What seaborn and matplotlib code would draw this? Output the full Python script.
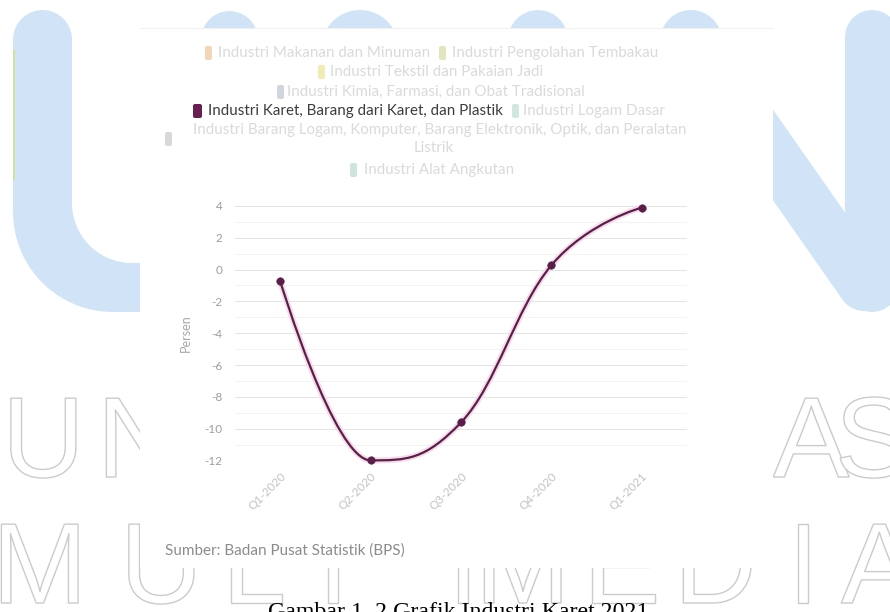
import numpy as np
import pandas as pd
import matplotlib
matplotlib.use("Agg")
import matplotlib.pyplot as plt
import seaborn as sns
from matplotlib.path import Path
from matplotlib.patches import PathPatch, Rectangle, FancyBboxPatch, Polygon
from matplotlib.textpath import TextPath
from matplotlib.font_manager import FontProperties
import matplotlib.patheffects as pe

# ---------------- data ----------------
quarters = ["Q1-2020", "Q2-2020", "Q3-2020", "Q4-2020", "Q1-2021"]
growth = [-0.73, -11.98, -9.60, 0.27, 3.89]
y_ticks = [4, 2, 0, -2, -4, -6, -8, -10, -12]
y_label = "Persen"
legend_names = [
    "Industri Makanan dan Minuman",
    "Industri Pengolahan Tembakau",
    "Industri Tekstil dan Pakaian Jadi",
    "Industri Kimia, Farmasi, dan Obat Tradisional",
    "Industri Karet, Barang dari Karet, dan Plastik",
    "Industri Logam Dasar",
    "Industri Barang Logam, Komputer, Barang Elektronik, Optik, dan Peralatan Listrik",
    "Industri Alat Angkutan",
]
legend_colors = ["#f3d6b8", "#e2e6bf", "#f1ebb6", "#cfd6dd", "#6a1f51", "#cfe7df", "#d8d8d8", "#cde5dc"]
active_series = "Industri Karet, Barang dari Karet, dan Plastik"
source_text = "Sumber: Badan Pusat Statistik (BPS)"
caption_text = "Gambar 1. 2 Grafik Industri Karet 2021"
wm_row1 = ["U", "N", "A", "S"]
wm_row2 = ["M", "U", "L", "T", "I", "M", "E", "D", "I", "A"]

# ---------------- style ----------------
sns.set_theme(style="white")
plt.rcParams["font.family"] = ["Lato", "DejaVu Sans"]
plt.rcParams["axes.unicode_minus"] = False

DPI = 100
W, H = 890, 612
fig = plt.figure(figsize=(W / DPI, H / DPI), dpi=DPI)
fig.patch.set_facecolor("white")

PX = 72.0 / DPI  # points per pixel


def width_px(s, family, size_pt):
    tp = TextPath((0, 0), s, size=size_pt, prop=FontProperties(family=family))
    return tp.get_extents().width / PX


def fit_size(s, family, target_px):
    return 10.0 * target_px / width_px(s, family, 10.0)


# background axis in pixel coordinates (y downwards)
bg = fig.add_axes([0, 0, 1, 1])
bg.set_xlim(0, W)
bg.set_ylim(H, 0)
bg.axis("off")
bg.set_zorder(0)

BLUE = "#d1e4f7"

# --- watermark: "U" shape (left)
top = [(42.5 + 29.5 * np.cos(t), 39.5 - 29.5 * np.sin(t)) for t in np.linspace(np.pi, 0, 30)]
inner = [(132 - 60 * np.cos(p), 203 + 60 * np.sin(p)) for p in np.linspace(0, np.pi / 2, 30)]
outer = [(113 - 100 * np.sin(p), 212 + 100 * np.cos(p)) for p in np.linspace(0, np.pi / 2, 40)]
u_pts = top + [(72, 39.5)] + inner + [(300, 263), (300, 312)] + outer + [(13, 39.5)]
bg.add_patch(Polygon(u_pts, closed=True, facecolor=BLUE, edgecolor="none", zorder=1))
bg.plot([14, 14], [50, 180], color="#cfe39a", lw=2 * PX, zorder=1.5, solid_capstyle="butt")

# --- watermark: rounded bumps peeking above the chart box
for cx, wpx in [(228.5, 57), (360, 78), (538, 60), (691, 62)]:
    bg.plot([cx, cx], [10 + wpx / 2, 150], color=BLUE, lw=wpx * PX,
            solid_capstyle="round", zorder=1)

# --- watermark: "N" (right)
bg.plot([872, 872], [37, 285], color=BLUE, lw=54 * PX, solid_capstyle="round", zorder=1)
bg.plot([690, 864], [155 + 1.43 * (690 - 773), 285], color=BLUE, lw=52 * PX,
        solid_capstyle="round", zorder=1)

# --- watermark: outlined letters
wm_size = 82.5
stroke = [pe.Stroke(linewidth=1.0, foreground="#cbcbcb")]
for ch, x in zip(wm_row1, [2, 97, 773, 835]):
    bg.text(x, 477, ch, fontsize=wm_size, family="Liberation Sans", color="white",
            ha="left", va="baseline", path_effects=stroke, zorder=2)
for ch, x in zip(wm_row2, [-8, 120, 222, 298, 447, 475, 583, 674, 787, 841]):
    bg.text(x, 603, ch, fontsize=wm_size, family="Liberation Sans", color="white",
            ha="left", va="baseline", path_effects=stroke, zorder=2)

# --- white chart box
bg.add_patch(Rectangle((140, 28), 633, 540, facecolor="white", edgecolor="none", zorder=3))
bg.plot([140, 773], [28, 28], color="#f0f0f0", lw=1 * PX, zorder=3.1)

# --- legend (Highcharts style, hidden series faded)
leg_family = ["Lato", "DejaVu Sans"]
fs_leg = fit_size(active_series, "Lato", 293)
leg_layout = [  # icon_x, y, text_x
    (205, 53, 218),
    (439, 53, 452),
    (318, 72, 330),
    (277, 92, 287),
    (193, 111, 208),
    (512, 111, 523),
    (165, 139, None),
    (350, 170, 364),
]
for name, col, (ix, iy, tx) in zip(legend_names, legend_colors, leg_layout):
    is_active = name == active_series
    tcol = "#3d3d3d" if is_active else "#dadada"
    iw = 9 if is_active else 7
    bg.add_patch(FancyBboxPatch((ix, iy - 7), iw, 14, boxstyle="round,pad=0,rounding_size=2",
                                facecolor=col, edgecolor="none", zorder=4))
    if tx is None:
        first, last = name.rsplit(" ", 1)
        bg.text(439.5, 130, first, fontsize=fs_leg, family=leg_family, color=tcol,
                ha="center", va="center", zorder=5)
        bg.text(434, 148, last, fontsize=fs_leg, family=leg_family, color=tcol,
                ha="center", va="center", zorder=5)
    else:
        bg.text(tx, iy, name, fontsize=fs_leg, family=leg_family, color=tcol,
                ha="left", va="center", zorder=5)

# --- source text
fs_src = fit_size(source_text, "Lato", 238)
bg.text(165, 551, source_text, fontsize=fs_src, family=leg_family, color="#8c8c8c",
        ha="left", va="center", zorder=5)

# --- document caption (cut at bottom)
fs_cap = fit_size(caption_text, "Liberation Serif", 378)
cap_px = fs_cap / PX
bg.text(268, 602 + 0.66 * cap_px, caption_text, fontsize=fs_cap, family="Liberation Serif",
        color="black", ha="left", va="baseline", zorder=5)

# ---------------- chart ----------------
L, R, T, B = 235, 687, 205.5, 461
ax = fig.add_axes([L / W, 1 - B / H, (R - L) / W, (B - T) / H])
ax.set_zorder(2)
ax.patch.set_alpha(0)

x_idx = np.arange(len(quarters))
df = pd.DataFrame({"idx": x_idx, "quarter": quarters, "growth": growth})

LINE = "#5a1e48"


def hc_spline(xs, ys, smoothing=1.5):
    denom = smoothing + 1
    n = len(xs)
    lc = [None] * n
    rc = [None] * n
    for i in range(1, n - 1):
        px, py = xs[i], ys[i]
        lx, ly = xs[i - 1], ys[i - 1]
        nx, ny = xs[i + 1], ys[i + 1]
        lcx = (smoothing * px + lx) / denom
        lcy = (smoothing * py + ly) / denom
        rcx = (smoothing * px + nx) / denom
        rcy = (smoothing * py + ny) / denom
        if rcx != lcx:
            corr = ((rcy - lcy) * (rcx - px)) / (rcx - lcx) + py - rcy
            lcy += corr
            rcy += corr
        if lcy > ly and lcy > py:
            lcy = max(ly, py); rcy = 2 * py - lcy
        elif lcy < ly and lcy < py:
            lcy = min(ly, py); rcy = 2 * py - lcy
        if rcy > ny and rcy > py:
            rcy = max(ny, py); lcy = 2 * py - rcy
        elif rcy < ny and rcy < py:
            rcy = min(ny, py); lcy = 2 * py - rcy
        lc[i] = (lcx, lcy)
        rc[i] = (rcx, rcy)
    verts = [(xs[0], ys[0])]
    codes = [Path.MOVETO]
    for i in range(1, n):
        c1 = rc[i - 1] if rc[i - 1] is not None else (xs[i - 1], ys[i - 1])
        c2 = lc[i] if lc[i] is not None else (xs[i], ys[i])
        verts += [c1, c2, (xs[i], ys[i])]
        codes += [Path.CURVE4] * 3
    return Path(verts, codes)


spath = hc_spline(list(df["idx"].astype(float)), list(df["growth"]))
ax.add_patch(PathPatch(spath, facecolor="none", edgecolor="#f6dceb", lw=6 * PX, zorder=2,
                       clip_on=False))
ax.add_patch(PathPatch(spath, facecolor="none", edgecolor=LINE, lw=2.2 * PX, zorder=3,
                       clip_on=False))
sns.scatterplot(data=df, x="idx", y="growth", ax=ax, color=LINE, edgecolor=LINE,
                s=(7.5 * PX) ** 2, zorder=4, legend=False, clip_on=False)

ax.set_xlim(-0.5, 4.5)
ax.set_ylim(-12.02, 4.02)
ax.set_yticks(y_ticks)
ax.set_yticklabels([str(t) for t in y_ticks])
ax.set_yticks([v + 1 for v in y_ticks[1:]], minor=True)
ax.set_xticks(x_idx)
ax.set_xticklabels(quarters, rotation=45, ha="right", rotation_mode="anchor")
ax.yaxis.grid(True, which="major", color="#e4e4e4", lw=1 * PX)
ax.yaxis.grid(True, which="minor", color="#f3f3f3", lw=1 * PX)
ax.xaxis.grid(False)
ax.set_axisbelow(True)
ax.tick_params(axis="y", which="both", length=0, pad=9, labelcolor="#9e9e9e", labelsize=8.5)
ax.tick_params(axis="x", length=0, pad=7, labelcolor="#c2c2c2", labelsize=8.5)
for s in ax.spines.values():
    s.set_visible(False)
ax.set_xlabel("")
ax.set_ylabel(y_label, color="#a8a8a8", fontsize=9)
ax.yaxis.set_label_coords((192 - L) / (R - L), 0.5)

fig.savefig("out.png", dpi=DPI, facecolor="white")
